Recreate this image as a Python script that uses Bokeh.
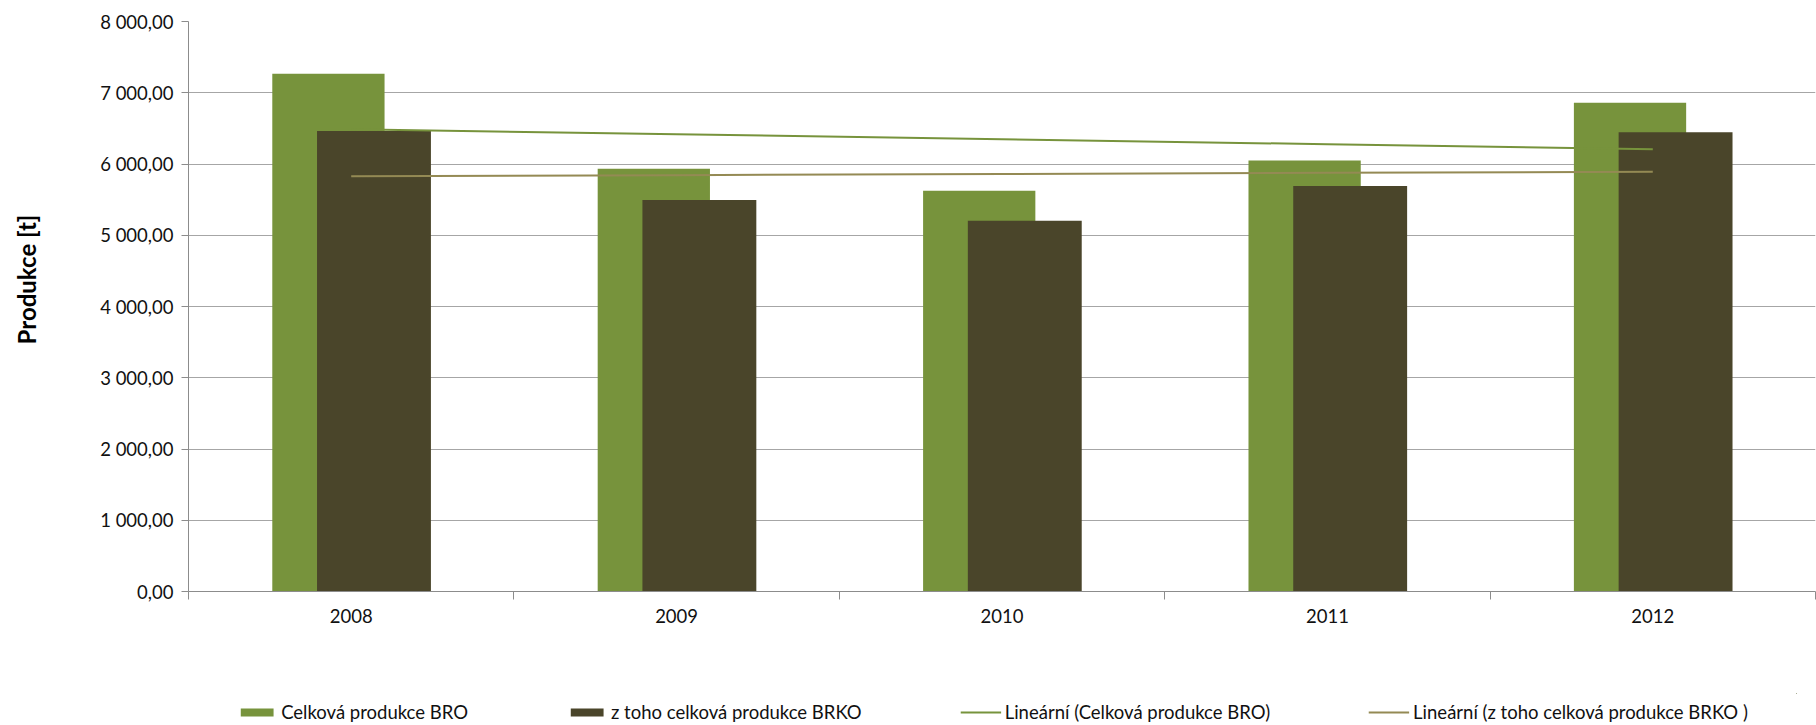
import math
import numpy as np
from bokeh.plotting import figure
from bokeh.layouts import column, row
from bokeh.models import (FixedTicker, Legend, LegendItem, ColumnDataSource,
                          Label)
from bokeh.transform import dodge
from bokeh.embed import file_html
from bokeh.resources import INLINE

# ---- data ----
years = ["2008", "2009", "2010", "2011", "2012"]
bro = [7266, 5935, 5626, 6049, 6860]      # Celková produkce BRO
brko = [6462, 5496, 5203, 5691, 6446]     # z toho celková produkce BRKO
y_ticks = [0, 1000, 2000, 3000, 4000, 5000, 6000, 7000, 8000]
y_tick_labels = ["0,00", "1 000,00", "2 000,00", "3 000,00", "4 000,00",
                 "5 000,00", "6 000,00", "7 000,00", "8 000,00"]
series_names = ["Celková produkce BRO", "z toho celková produkce BRKO",
                "Lineární (Celková produkce BRO)",
                "Lineární (z toho celková produkce BRKO )"]
y_title = "Produkce [t]"

FONT = "Lato"
FS = "18.5px"
GREEN = "#77933C"
DARK = "#4A452A"
TAN = "#948A54"
AXIS = "#8c8c8c"
TXT = "#111111"

n = len(years)
pos = np.arange(n) + 0.5
src = ColumnDataSource(dict(x=pos, bro=bro, brko=brko))

# linear trend lines (least squares fit of each series)
t = np.arange(n)
bro_fit = np.polyval(np.polyfit(t, bro, 1), t)
brko_fit = np.polyval(np.polyfit(t, brko, 1), t)
tsrc = ColumnDataSource(dict(x=pos, bro=bro_fit, brko=brko_fit))

TITLE_W = 44
MAIN_H = 693
FRAME_TOP = 21
FRAME_BOTTOM = 591

# ---------------- y title strip ----------------
tf = figure(width=TITLE_W, height=MAIN_H, output_backend="svg",
            toolbar_location=None, x_axis_location=None, y_axis_location=None,
            min_border=0, x_range=(0, 1), y_range=(0, 1))
tf.outline_line_color = None
tf.grid.visible = False
# screen y is measured from the (row-aligned) frame bottom
tf.add_layout(Label(x=26, y=FRAME_BOTTOM - 279, x_units="screen",
                    y_units="screen", text=y_title, angle=math.pi / 2,
                    text_align="center", text_baseline="middle",
                    text_font=FONT, text_font_style="bold",
                    text_font_size="24px", text_color="black"))

# ---------------- main chart ----------------
p = figure(width=1816 - TITLE_W, height=MAIN_H, x_range=(0, n),
           y_range=(0, 8000), output_backend="svg", toolbar_location=None,
           min_border_left=188 - TITLE_W, min_border_right=1,
           min_border_top=FRAME_TOP, min_border_bottom=MAIN_H - FRAME_BOTTOM)
p.outline_line_color = None
p.background_fill_color = "white"
p.border_fill_color = "white"

BAR_STYLE = [dict(fill_color=GREEN, line_color=None),
             dict(fill_color=DARK, line_color=None)]
LINE_STYLE = [dict(line_color=GREEN, line_width=2),
              dict(line_color=TAN, line_width=2)]

p.vbar(x=dodge("x", -0.07), top="bro", width=0.345, source=src, **BAR_STYLE[0])
p.vbar(x=dodge("x", 0.07), top="brko", width=0.35, source=src, **BAR_STYLE[1])
p.line(x="x", y="bro", source=tsrc, **LINE_STYLE[0])
p.line(x="x", y="brko", source=tsrc, **LINE_STYLE[1])

# y axis
p.yaxis.ticker = FixedTicker(ticks=y_ticks)
p.yaxis.major_label_overrides = {v: s for v, s in zip(y_ticks, y_tick_labels)}
p.yaxis.minor_tick_line_color = None
p.yaxis.major_tick_out = 7
p.yaxis.major_tick_in = 0
p.yaxis.major_label_standoff = 8
p.yaxis.axis_line_color = AXIS
p.yaxis.major_tick_line_color = AXIS
p.yaxis.major_label_text_font = FONT
p.yaxis.major_label_text_font_size = FS
p.yaxis.major_label_text_color = TXT

# x axis: labels at category centres, ticks at category boundaries
p.xaxis.ticker = FixedTicker(ticks=list(pos), minor_ticks=list(range(n + 1)))
p.xaxis.major_label_overrides = {float(v): s for v, s in zip(pos, years)}
p.xaxis.major_tick_out = 0
p.xaxis.major_tick_in = 0
p.xaxis.minor_tick_out = 8
p.xaxis.minor_tick_in = 0
p.xaxis.minor_tick_line_color = AXIS
p.xaxis.axis_line_color = AXIS
p.xaxis.major_label_standoff = 9
p.xaxis.major_label_text_font = FONT
p.xaxis.major_label_text_font_size = FS
p.xaxis.major_label_text_color = TXT

p.xgrid.grid_line_color = None
p.ygrid.ticker = FixedTicker(ticks=y_ticks)
p.ygrid.grid_line_color = "#a6a6a6"
p.ygrid.grid_line_width = 1

# ---------------- legend strip below the chart ----------------
# the same series are drawn here outside the visible range, only so that the
# legend has glyphs to show
lg = figure(width=1800, height=725 - MAIN_H, output_backend="svg",
            toolbar_location=None, x_axis_location=None, y_axis_location=None,
            min_border_left=188, min_border_right=4, min_border_top=0,
            min_border_bottom=0, x_range=(-20, -19), y_range=(-20, -19))
lg.outline_line_color = None
lg.border_fill_color = "white"
lg.grid.visible = False
k1 = lg.vbar(x="x", top="bro", width=0.345, source=src, **BAR_STYLE[0])
k2 = lg.vbar(x="x", top="brko", width=0.35, source=src, **BAR_STYLE[1])
k3 = lg.line(x="x", y="bro", source=tsrc, **LINE_STYLE[0])
k4 = lg.line(x="x", y="brko", source=tsrc, **LINE_STYLE[1])

legend = Legend(items=[LegendItem(label=series_names[0], renderers=[k1]),
                       LegendItem(label=series_names[1], renderers=[k2]),
                       LegendItem(label=series_names[2], renderers=[k3]),
                       LegendItem(label=series_names[3], renderers=[k4])],
                orientation="horizontal", location="bottom_center",
                padding=0, spacing=98, margin=2,
                glyph_width=41, glyph_height=10, label_standoff=4,
                label_height=20,
                label_text_font=FONT, label_text_font_size=FS,
                label_text_color=TXT,
                border_line_color=None, background_fill_alpha=0)
lg.add_layout(legend)

layout = column(row(tf, p, spacing=0), lg, spacing=0)
open("out.html", "w").write(file_html(layout, INLINE))
